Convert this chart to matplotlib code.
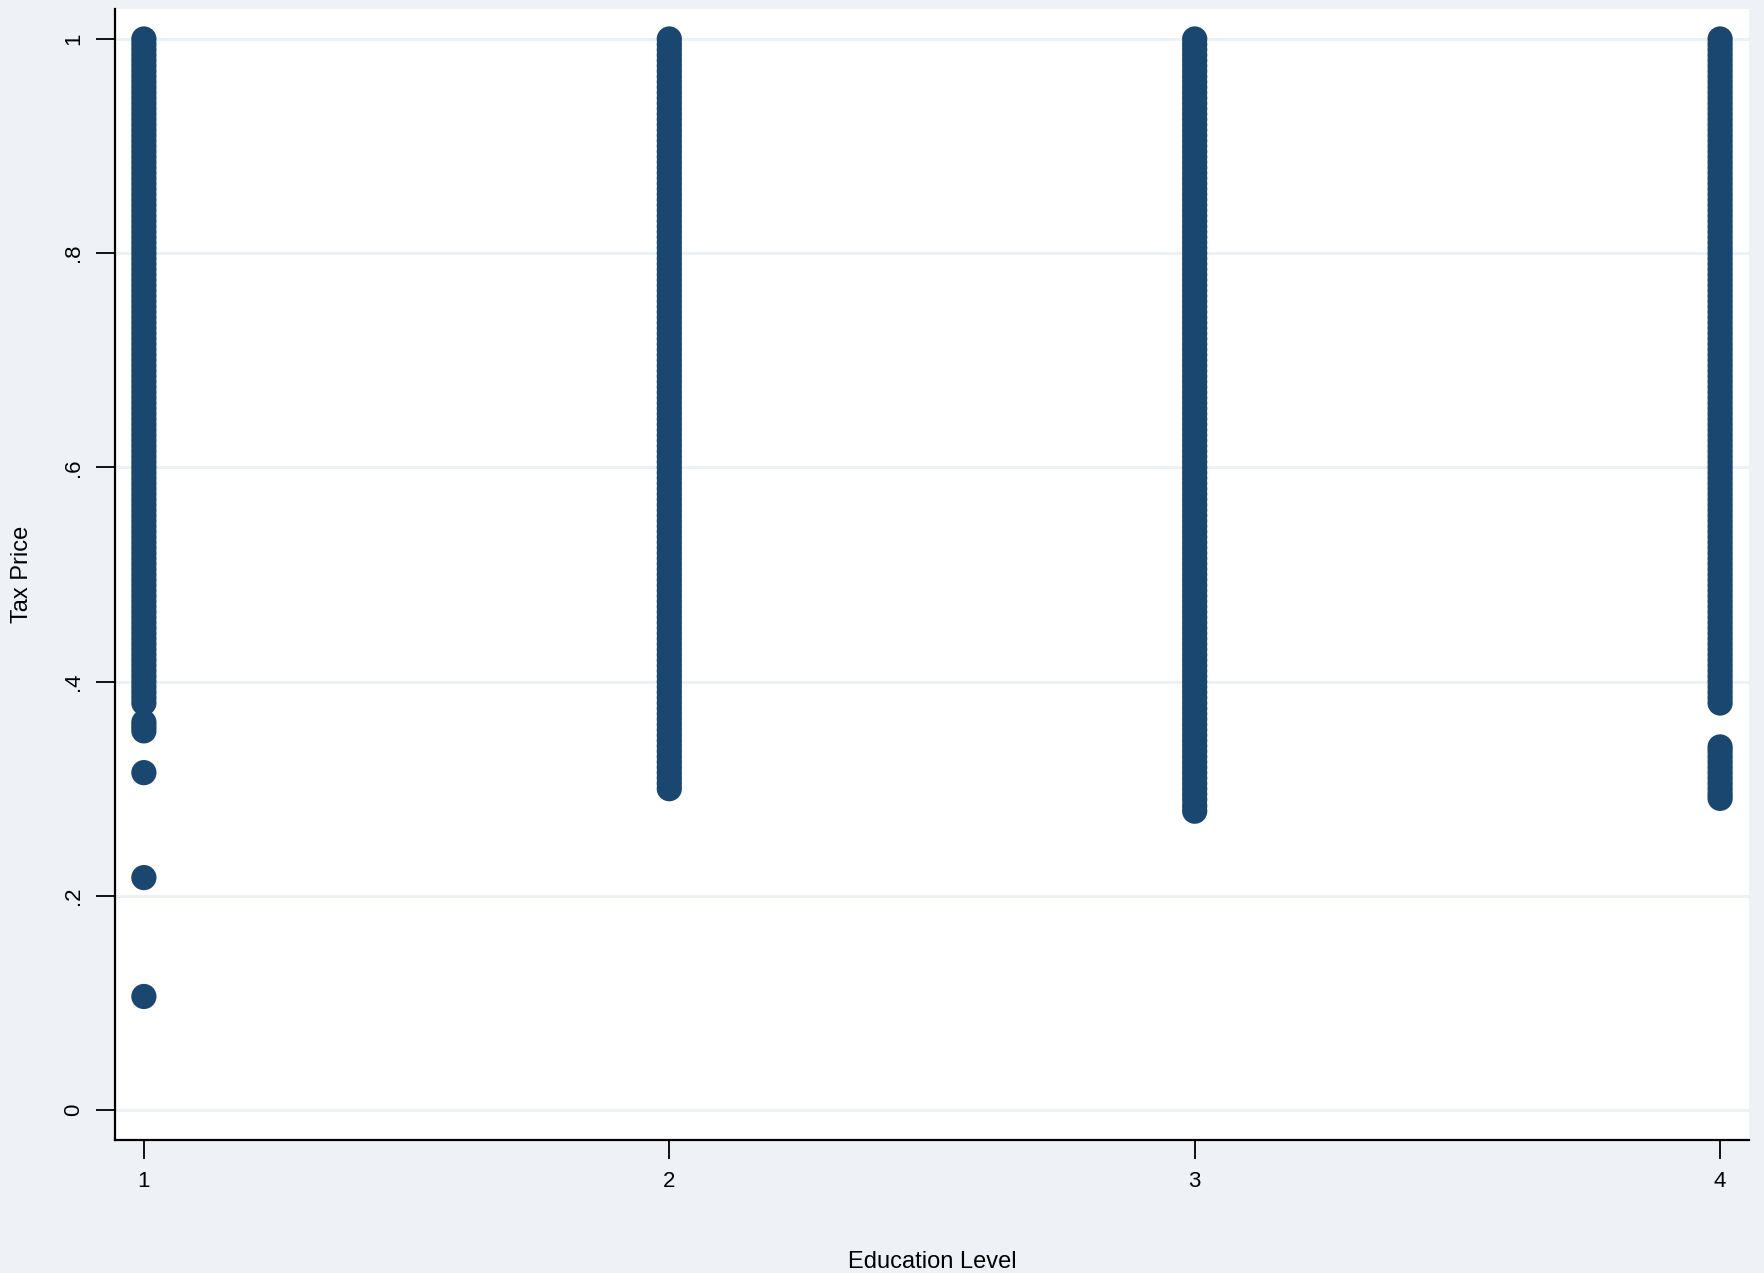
import matplotlib
matplotlib.use("Agg")
import matplotlib.pyplot as plt

# tax price observations by education level
levels = [1, 2, 3, 4]

price_edu1 = [1.000, 0.995, 0.990, 0.985, 0.980, 0.975, 0.970, 0.965, 0.960, 0.955,
              0.950, 0.945, 0.940, 0.935, 0.930, 0.925, 0.920, 0.915, 0.910, 0.905,
              0.900, 0.895, 0.890, 0.885, 0.880, 0.875, 0.870, 0.865, 0.860, 0.855,
              0.850, 0.845, 0.840, 0.835, 0.830, 0.825, 0.820, 0.815, 0.810, 0.805,
              0.800, 0.795, 0.790, 0.785, 0.780, 0.775, 0.770, 0.765, 0.760, 0.755,
              0.750, 0.745, 0.740, 0.735, 0.730, 0.725, 0.720, 0.715, 0.710, 0.705,
              0.700, 0.695, 0.690, 0.685, 0.680, 0.675, 0.670, 0.665, 0.660, 0.655,
              0.650, 0.645, 0.640, 0.635, 0.630, 0.625, 0.620, 0.615, 0.610, 0.605,
              0.600, 0.595, 0.590, 0.585, 0.580, 0.575, 0.570, 0.565, 0.560, 0.555,
              0.550, 0.545, 0.540, 0.535, 0.530, 0.525, 0.520, 0.515, 0.510, 0.505,
              0.500, 0.495, 0.490, 0.485, 0.480, 0.475, 0.470, 0.465, 0.460, 0.455,
              0.450, 0.445, 0.440, 0.435, 0.430, 0.425, 0.420, 0.415, 0.410, 0.405,
              0.400, 0.395, 0.390, 0.385, 0.380,
              0.362, 0.358, 0.354, 0.315, 0.217, 0.106]

price_edu2 = [1.000, 0.995, 0.990, 0.985, 0.980, 0.975, 0.970, 0.965, 0.960, 0.955,
              0.950, 0.945, 0.940, 0.935, 0.930, 0.925, 0.920, 0.915, 0.910, 0.905,
              0.900, 0.895, 0.890, 0.885, 0.880, 0.875, 0.870, 0.865, 0.860, 0.855,
              0.850, 0.845, 0.840, 0.835, 0.830, 0.825, 0.820, 0.815, 0.810, 0.805,
              0.800, 0.795, 0.790, 0.785, 0.780, 0.775, 0.770, 0.765, 0.760, 0.755,
              0.750, 0.745, 0.740, 0.735, 0.730, 0.725, 0.720, 0.715, 0.710, 0.705,
              0.700, 0.695, 0.690, 0.685, 0.680, 0.675, 0.670, 0.665, 0.660, 0.655,
              0.650, 0.645, 0.640, 0.635, 0.630, 0.625, 0.620, 0.615, 0.610, 0.605,
              0.600, 0.595, 0.590, 0.585, 0.580, 0.575, 0.570, 0.565, 0.560, 0.555,
              0.550, 0.545, 0.540, 0.535, 0.530, 0.525, 0.520, 0.515, 0.510, 0.505,
              0.500, 0.495, 0.490, 0.485, 0.480, 0.475, 0.470, 0.465, 0.460, 0.455,
              0.450, 0.445, 0.440, 0.435, 0.430, 0.425, 0.420, 0.415, 0.410, 0.405,
              0.400, 0.395, 0.390, 0.385, 0.380, 0.375, 0.370, 0.365, 0.360, 0.355,
              0.350, 0.345, 0.340, 0.335, 0.330, 0.325, 0.320, 0.315, 0.310, 0.305,
              0.300]

price_edu3 = [1.000, 0.995, 0.990, 0.985, 0.980, 0.975, 0.970, 0.965, 0.960, 0.955,
              0.950, 0.945, 0.940, 0.935, 0.930, 0.925, 0.920, 0.915, 0.910, 0.905,
              0.900, 0.895, 0.890, 0.885, 0.880, 0.875, 0.870, 0.865, 0.860, 0.855,
              0.850, 0.845, 0.840, 0.835, 0.830, 0.825, 0.820, 0.815, 0.810, 0.805,
              0.800, 0.795, 0.790, 0.785, 0.780, 0.775, 0.770, 0.765, 0.760, 0.755,
              0.750, 0.745, 0.740, 0.735, 0.730, 0.725, 0.720, 0.715, 0.710, 0.705,
              0.700, 0.695, 0.690, 0.685, 0.680, 0.675, 0.670, 0.665, 0.660, 0.655,
              0.650, 0.645, 0.640, 0.635, 0.630, 0.625, 0.620, 0.615, 0.610, 0.605,
              0.600, 0.595, 0.590, 0.585, 0.580, 0.575, 0.570, 0.565, 0.560, 0.555,
              0.550, 0.545, 0.540, 0.535, 0.530, 0.525, 0.520, 0.515, 0.510, 0.505,
              0.500, 0.495, 0.490, 0.485, 0.480, 0.475, 0.470, 0.465, 0.460, 0.455,
              0.450, 0.445, 0.440, 0.435, 0.430, 0.425, 0.420, 0.415, 0.410, 0.405,
              0.400, 0.395, 0.390, 0.385, 0.380, 0.375, 0.370, 0.365, 0.360, 0.355,
              0.350, 0.345, 0.340, 0.335, 0.330, 0.325, 0.320, 0.315, 0.310, 0.305,
              0.300, 0.295, 0.290, 0.284, 0.279]

price_edu4 = [1.000, 0.995, 0.990, 0.985, 0.980, 0.975, 0.970, 0.965, 0.960, 0.955,
              0.950, 0.945, 0.940, 0.935, 0.930, 0.925, 0.920, 0.915, 0.910, 0.905,
              0.900, 0.895, 0.890, 0.885, 0.880, 0.875, 0.870, 0.865, 0.860, 0.855,
              0.850, 0.845, 0.840, 0.835, 0.830, 0.825, 0.820, 0.815, 0.810, 0.805,
              0.800, 0.795, 0.790, 0.785, 0.780, 0.775, 0.770, 0.765, 0.760, 0.755,
              0.750, 0.745, 0.740, 0.735, 0.730, 0.725, 0.720, 0.715, 0.710, 0.705,
              0.700, 0.695, 0.690, 0.685, 0.680, 0.675, 0.670, 0.665, 0.660, 0.655,
              0.650, 0.645, 0.640, 0.635, 0.630, 0.625, 0.620, 0.615, 0.610, 0.605,
              0.600, 0.595, 0.590, 0.585, 0.580, 0.575, 0.570, 0.565, 0.560, 0.555,
              0.550, 0.545, 0.540, 0.535, 0.530, 0.525, 0.520, 0.515, 0.510, 0.505,
              0.500, 0.495, 0.490, 0.485, 0.480, 0.475, 0.470, 0.465, 0.460, 0.455,
              0.450, 0.445, 0.440, 0.435, 0.430, 0.425, 0.420, 0.415, 0.410, 0.405,
              0.400, 0.395, 0.390, 0.385, 0.380,
              0.339, 0.335, 0.330, 0.325, 0.320, 0.315, 0.310, 0.305, 0.300, 0.295,
              0.291]

y_ticks = [0, 0.2, 0.4, 0.6, 0.8, 1.0]
y_ticklabels = ["0", ".2", ".4", ".6", ".8", "1"]

BG = "#EEF2F7"
NAVY = "#1A476F"
GRID = "#ECF1F6"

plt.rcParams["font.family"] = ["Liberation Sans Narrow", "Liberation Sans", "DejaVu Sans"]

fig = plt.figure(figsize=(17.64, 12.73), dpi=100, facecolor=BG)
W, H = 1764, 1273
ax = fig.add_axes([115 / W, (H - 1140) / H, (1749 - 115) / W, (1140 - 9) / H])
ax.set_facecolor("white")

for lvl, prices in zip(levels, [price_edu1, price_edu2, price_edu3, price_edu4]):
    ax.scatter([lvl] * len(prices), prices, s=330, color=NAVY, edgecolors="none", zorder=3)

ax.set_xlim(0.945, 4.055)
ax.set_ylim(-0.028, 1.028)

ax.set_xticks(levels)
ax.set_xticklabels([str(l) for l in levels])
ax.set_yticks(y_ticks)
ax.set_yticklabels(y_ticklabels, rotation=90, va="center")

ax.grid(axis="y", color=GRID, linewidth=2.2, zorder=0)
ax.set_axisbelow(True)

for side in ["top", "right"]:
    ax.spines[side].set_visible(False)
for side in ["left", "bottom"]:
    ax.spines[side].set_linewidth(1.6)
    ax.spines[side].set_color("black")

ax.tick_params(axis="both", length=14, width=1.3, color="black", labelsize=16, pad=8)

ax.set_ylabel("Tax Price", fontsize=17, labelpad=22)
fig.text(829 * 1.125 / W, 1 - 1262 / H, "Education Level", ha="center", va="center", fontsize=17)

fig.savefig("out.png", dpi=100, facecolor=BG)
